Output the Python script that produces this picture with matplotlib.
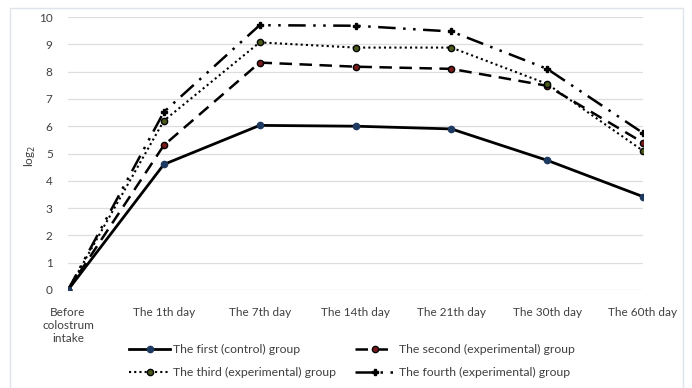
import matplotlib
matplotlib.use("Agg")
import matplotlib.pyplot as plt
from matplotlib.patches import Rectangle

categories = ["Before\ncolostrum\nintake", "The 1th day", "The 7th day", "The 14th day",
              "The 21th day", "The 30th day", "The 60th day"]
control = [0, 4.6, 6.03, 6.0, 5.9, 4.75, 3.42]
second = [0, 5.3, 8.33, 8.18, 8.1, 7.48, 5.4]
third = [0, 6.2, 9.07, 8.88, 8.88, 7.55, 5.1]
fourth = [0, 6.52, 9.7, 9.68, 9.47, 8.1, 5.75]
yticks = list(range(0, 11))

plt.rcParams["font.family"] = ["Lato", "DejaVu Sans"]

fig = plt.figure(figsize=(6.92, 3.88), dpi=100)
fig.patch.set_facecolor("white")
# thin frame around the chart area
fig.add_artist(Rectangle((10 / 692, -0.05), (683 - 10) / 692, 1.05 - 8 / 388,
                         transform=fig.transFigure, fill=False,
                         edgecolor="#dfe3ea", linewidth=1.0))

ax = fig.add_axes([68 / 692, 1 - 290 / 388, (643 - 68) / 692, (290 - 17) / 388])
x = list(range(len(categories)))

h1, = ax.plot(x, control, color="black", lw=2.0, ls="-", marker="o", ms=4.5,
              mfc="#1f3a60", mec="#1f3a60", label="The first (control) group", zorder=4)
h2, = ax.plot(x, second, color="black", lw=1.8, ls=(0, (5, 3)), marker="o", ms=4.5,
              mfc="#7a1a1a", mec="black", label="The second (experimental) group", zorder=3)
h3, = ax.plot(x, third, color="black", lw=1.5, ls=(0, (1, 1.5)), marker="o", ms=4.5,
              mfc="#4a5a1a", mec="black", label="The third (experimental) group", zorder=3)
h4, = ax.plot(x, fourth, color="black", lw=1.8, ls=(0, (7, 3, 1, 3, 1, 3)), marker="P", ms=4.5,
              mfc="black", mec="black", label="The fourth (experimental) group", zorder=3)

ax.set_xlim(0, 6)
ax.set_ylim(0, 10)
ax.set_yticks(yticks)
ax.set_xticks(x)
ax.set_xticklabels(categories, fontsize=8.5, color="#404040", linespacing=1.25)
ax.tick_params(axis="y", labelsize=8.5, colors="#404040", length=0, pad=11)
ax.tick_params(axis="x", length=0, pad=12)
ax.grid(axis="y", color="#dedede", lw=0.9)
ax.set_axisbelow(True)
for s in ax.spines.values():
    s.set_visible(False)
ax.set_ylabel("log$_2$", fontsize=8.5, color="#404040")
ax.yaxis.set_label_coords(-30 / 575, 0.49)

# row-major order: first/second on top row, third/fourth below
leg = fig.legend([h1, h3, h2, h4], [h.get_label() for h in (h1, h3, h2, h4)],
                 loc="center", bbox_to_anchor=(352 / 692, 1 - 361 / 388), ncol=2,
                 frameon=False, fontsize=8.8, handlelength=3.3, columnspacing=1.5,
                 labelspacing=1.0, handletextpad=0.3)
for t in leg.get_texts():
    t.set_color("#404040")

fig.savefig("out.png", dpi=100, facecolor="white")
